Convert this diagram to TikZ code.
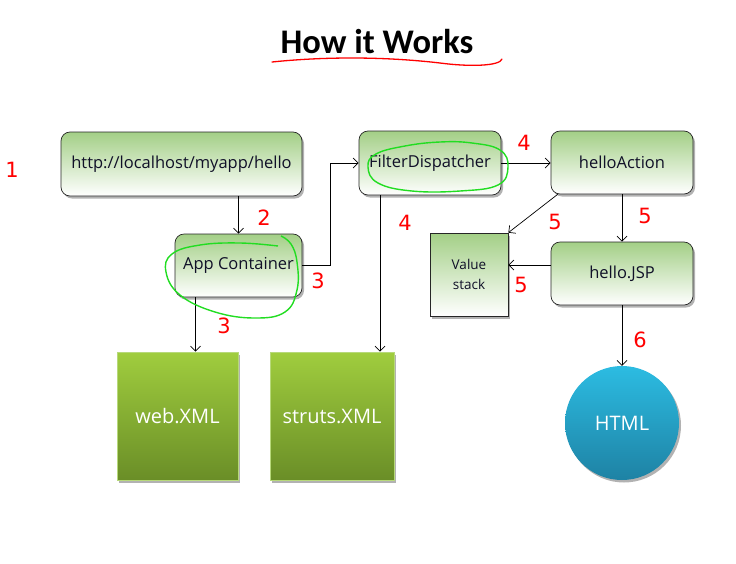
\documentclass[tikz,border=0pt]{standalone}
\usepackage{fontspec}
\setmainfont{Open Sans}
\newfontfamily\titlefont{Carlito}
\newfontfamily\handfont{DejaVu Sans}
\usetikzlibrary{arrows.meta,shadows}
\definecolor{boxtop}{HTML}{A3CF86}
\definecolor{xmltop}{HTML}{A0CD3E}
\definecolor{xmlbot}{HTML}{6A8E27}
\definecolor{xmlline}{HTML}{B7D97A}
\definecolor{htmltop}{HTML}{2CBCE2}
\definecolor{htmlbot}{HTML}{1E82A4}
\definecolor{loopgreen}{HTML}{22DD22}
\definecolor{boxtext}{HTML}{101028}
\tikzset{
  shad/.style={drop shadow={shadow xshift=2pt,shadow yshift=-2.5pt,opacity=0.3,fill=black}},
  gbox/.style={draw=black!85, line width=0.7pt, rounded corners=9pt, top color=boxtop, bottom color=white, shad, text=boxtext, font=\fontsize{16.5}{18}\selectfont, inner sep=0pt},
  vsbox/.style={draw=black!85, line width=0.7pt, top color=boxtop, bottom color=white, shad, text=boxtext, font=\fontsize{13.5}{20}\selectfont, align=center, inner sep=0pt},
  xmlbox/.style={draw=xmlline, line width=0.6pt, top color=xmltop, bottom color=xmlbot, shad, text=white, font=\fontsize{20}{22}\selectfont, inner sep=0pt},
  htmlc/.style={circle, top color=htmltop, bottom color=htmlbot, shad, text=white, font=\fontsize{20}{22}\selectfont, inner sep=0pt, minimum size=114pt},
  arr/.style={draw=black, line width=0.7pt, -{Straight Barb[length=5pt,width=10pt]}},
  hand/.style={text=red, font=\handfont\fontsize{21}{22}\selectfont},
  gloop/.style={draw=loopgreen, line width=1.4pt},
}
\begin{document}
\begin{tikzpicture}[x=1pt,y=-1pt]
\useasboundingbox (0,0) rectangle (736,563);

% title
\node (title) at (377,42) {\titlefont\bfseries\fontsize{34.5}{40}\selectfont How it Works};
\draw[red, line width=1.3pt, line cap=round] (272,62) .. controls (320,57) and (380,56) .. (440,63) .. controls (470,67) and (500,66) .. (502,59);

% nodes
\node[gbox, minimum width=241pt, minimum height=64pt] (url) at (181.5,164) {http://localhost/myapp/hello};
\node[gbox, minimum width=127pt, minimum height=63pt] (app) at (238.5,265.5) {App Container};
\node[gbox, minimum width=142pt, minimum height=64pt] (fd) at (430,163) {FilterDispatcher};
\node[gbox, minimum width=142pt, minimum height=63pt] (ha) at (622,162.5) {helloAction};
\node[gbox, minimum width=142pt, minimum height=63pt] (jsp) at (622,273.5) {hello.JSP};
\node[vsbox, minimum width=78pt, minimum height=83pt] (vs) at (469,274.5) {Value\\stack};
\node[xmlbox, minimum width=121pt, minimum height=128pt] (web) at (177.5,416) {web.XML};
\node[xmlbox, minimum width=124pt, minimum height=128pt] (struts) at (332,416) {struts.XML};
\node[htmlc] (html) at (622,423) {HTML};

% connectors
\draw[arr] (url.south -| app.north) -- (app.north);
\draw[arr] (app.east) -- ++(28,0) |- (fd.west);
\draw[arr] ([xshift=-43pt]app.south) -- ([xshift=-43pt]app.south |- web.north);
\draw[arr] ([xshift=-50pt]fd.south) -- ([xshift=-50pt]fd.south |- struts.north);
\draw[arr] (fd.east) -- (fd.east -| ha.west);
\draw[arr] ([xshift=7pt]ha.south west) -- (vs.north east);
\draw[arr] (ha.south) -- (jsp.north);
\draw[arr] ([yshift=8.5pt]jsp.west) -- ([yshift=8.5pt]jsp.west -| vs.east);
\draw[arr] (jsp.south) -- (html.north);

% green loops
\draw[gloop] plot[smooth, tension=0.7] coordinates {(278,246) (240,243) (200,245) (172,254) (166,272) (180,295) (215,312) (255,318) (285,312) (297,290) (297,262) (291,244) (281,236)};
\draw[gloop] plot[smooth cycle, tension=0.7] coordinates {(440,142) (405,146) (376,154) (368,167) (378,183) (412,191) (460,191) (498,185) (508,167) (500,150) (472,143)};

% red handwritten numbers
\node[hand] (n1) at (12,170) {1};
\node[hand] (n2) at (264,218) {2};
\node[hand] (n3a) at (318,281) {3};
\node[hand] (n3b) at (224,326) {3};
\node[hand] (n4a) at (524,143) {4};
\node[hand] (n4b) at (405,223) {4};
\node[hand] (n5a) at (555,222) {5};
\node[hand] (n5b) at (645,216) {5};
\node[hand] (n5c) at (521,285) {5};
\node[hand] (n6) at (640,340) {6};
\end{tikzpicture}
\end{document}
